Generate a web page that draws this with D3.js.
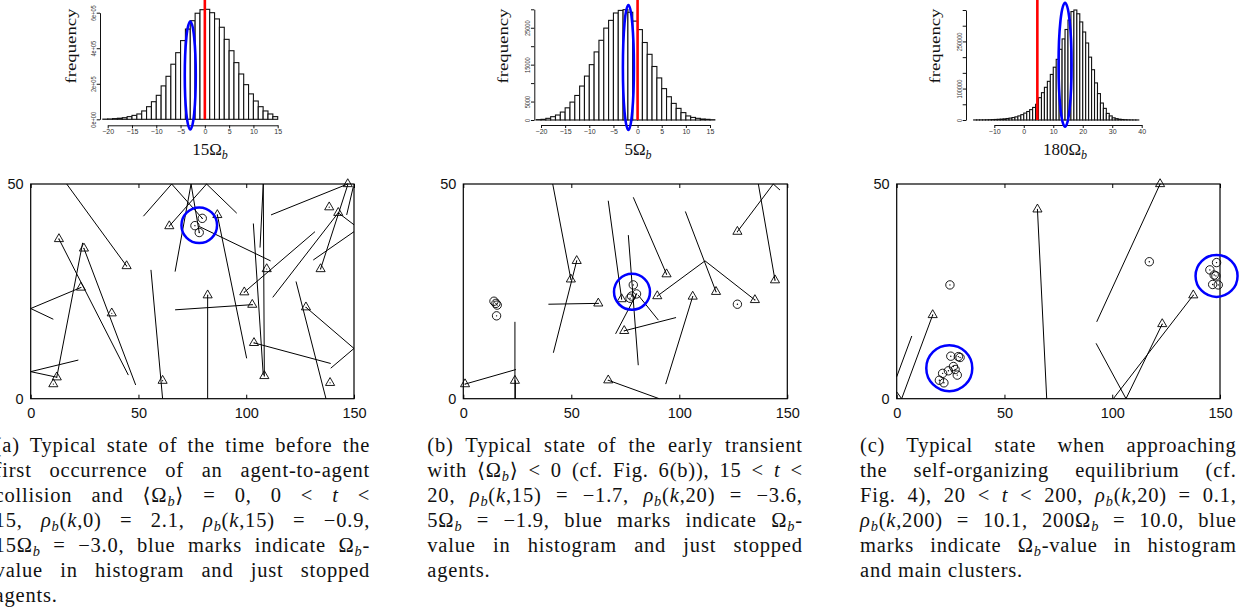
<!DOCTYPE html>
<html>
<head>
<meta charset="utf-8">
<script src="https://cdn.jsdelivr.net/npm/d3@7"></script>
<style>
  body { margin: 0; background: #fff; width: 1258px; height: 613px; overflow: hidden; position: relative; }
  svg { position: absolute; left: 0; top: 0; }
  .cap { position: absolute; font-family: "Liberation Serif", "DejaVu Serif", serif; font-size: 20.5px; line-height: 25px; letter-spacing: 0.8px; color: #111; }
  .cap div { height: 25px; text-align: justify; text-align-last: justify; }
  .cap div.last { text-align: left; text-align-last: left; }
  .cap sub { font-size: 0.7em; vertical-align: -0.28em; line-height: 0; font-style: italic; }
</style>
</head>
<body>
<script>
// ---------- histogram data (bin left edges, unit width) ----------
const binsA = [-21, -20, -19, -18, -17, -16, -15, -14, -13, -12, -11, -10, -9, -8, -7, -6, -5, -4, -3, -2, -1,
  0, 1, 2, 3, 4, 5, 6, 7, 8, 9, 10, 11, 12, 13, 14];
const countsA = [1000, 2000, 4000, 6000, 9000, 15000, 22000, 30000, 47000, 71000, 99000, 135000, 188000, 242000,
  310000, 375000, 443000, 508000, 555000, 597000, 617000, 619000, 600000, 565000, 518000, 450000, 386000, 319000,
  255000, 195000, 143000, 103000, 71000, 47000, 30000, 15000];
const xTicksA = [-20, -15, -10, -5, 0, 5, 10, 15];
const yTicksA = [0, 200000, 400000, 600000];
const yLabelsA = ["0e+00", "2e+05", "4e+05", "6e+05"];
const redA = 0;
const blueA = -3.0;

const binsB = [-21, -20, -19, -18, -17, -16, -15, -14, -13, -12, -11, -10, -9, -8, -7, -6, -5, -4, -3, -2, -1,
  0, 1, 2, 3, 4, 5, 6, 7, 8, 9, 10, 11, 12, 13, 14, 15];
const countsB = [100, 180, 450, 900, 1350, 2150, 3300, 4850, 6650, 9200, 11900, 15000, 18450, 21600, 24900, 27000,
  29000, 29700, 29900, 29200, 26800, 24500, 21000, 17800, 14500, 11400, 8500, 6300, 4500, 3150, 2000, 1100, 700,
  450, 270, 180, 80];
const xTicksB = [-20, -15, -10, -5, 0, 5, 10, 15];
const yTicksB = [0, 5000, 10000, 15000, 20000, 25000, 30000];
const yLabelsB = ["0", "5000", "", "15000", "", "25000", ""];
const redB = 0;
const blueB = -1.9;

const binsC = [-17, -16, -15, -14, -13, -12, -11, -10, -9, -8, -7, -6, -5, -4, -3, -2, -1, 0, 1, 2, 3, 4, 5, 6, 7,
  8, 9, 10, 11, 12, 13, 14, 15, 16, 17, 18, 19, 20, 21, 22, 23, 24, 25, 26, 27, 28, 29, 30, 31, 32, 33, 34, 35, 36,
  37, 38];
const countsC = [300, 400, 500, 600, 800, 1000, 1300, 1700, 2200, 2800, 3600, 4700, 6000, 7800, 10000, 13000, 17000,
  22000, 27000, 33000, 40000, 50000, 71000, 87000, 104000, 123000, 145000, 168000, 193000, 225000, 258000, 288000,
  318000, 345000, 350000, 338000, 312000, 280000, 245000, 200000, 160000, 118000, 84000, 54000, 37000, 21000, 13000,
  7000, 4300, 2500, 1500, 1000, 600, 400, 300, 200];
const xTicksC = [-10, 0, 10, 20, 30, 40];
const yTicksC = [0, 50000, 100000, 150000, 200000, 250000, 300000, 350000];
const yLabelsC = ["0", "", "100000", "", "", "250000", "", ""];
const redC = 4.6;
const blueC = 14.0;

// ---------- agent snapshots (x in 0..150, y in 0..50) ----------
const segmentsA = [
  [16.7, 50, 44.5, 30.9], [52.3, 42.5, 65.4, 50], [65.4, 50, 79.6, 42.0], [67.0, 29.6, 74.4, 50],
  [74.4, 50, 78.2, 38.7], [64.3, 40.2, 81.6, 50], [81.6, 50, 95.6, 43.2], [78.2, 40.1, 111.3, 32.1],
  [86.6, 42.8, 100.2, 9.4], [103.3, 40.8, 107.9, 5.5], [106.4, 35.2, 107.9, 50], [107.9, 50, 108.4, 5.3],
  [111.5, 42.8, 147.1, 50], [146.6, 42.8, 149.7, 49.4], [142.7, 43.3, 150, 40.5], [131.1, 32.3, 150, 38.9],
  [134.5, 30.2, 147.1, 49.8], [112.3, 23.6, 142.7, 43.3], [99.1, 24.8, 131.9, 38.9], [123.1, 27.3, 137.0, 0],
  [127.7, 21.3, 150, 11.7], [150, 11.7, 139.2, 7.1], [103.6, 13.0, 139.2, 8.2], [67.0, 20.7, 102.8, 21.9],
  [82.1, 24.1, 82.1, 0], [55.8, 30.0, 61.2, 0], [24.7, 35.0, 48.7, 3.2], [13.1, 37.2, 45.3, 5.5],
  [24.1, 36.3, 12.1, 5.0], [0, 21.0, 23.3, 25.9], [0, 21.0, 10.5, 18.5], [0, 6.3, 22.1, 9.0], [0, 6.3, 12.1, 5.0]
];
const movingA = [
  [44.5, 30.9], [64.3, 40.2], [86.6, 42.8], [13.1, 37.2], [24.7, 35.0], [23.3, 25.9], [37.6, 19.9], [12.1, 5.0],
  [10.5, 3.4], [61.2, 4.2], [82.1, 24.1], [99.1, 24.8], [102.8, 21.9], [103.6, 13.0], [108.4, 5.3], [109.5, 30.2],
  [127.7, 21.3], [134.5, 30.2], [138.5, 44.6], [142.7, 43.3], [147.1, 50], [138.9, 3.7]
];
const stoppedA = [[79.6, 42.0], [76.2, 40.3], [78.2, 38.7]];
const clustersA = [[78.2, 40.4]];

const segmentsB = [
  [41.4, 50, 49.8, 27.8], [41.7, 10.7, 52.5, 32.1], [39.4, 22.0, 62.5, 22.2], [67.1, 46.1, 73.3, 23.2],
  [78.7, 46.9, 94.1, 29.0], [76.4, 38.1, 81.0, 7.8], [70.5, 15.1, 80.2, 24.4], [74.5, 15.8, 98.5, 18.9],
  [81.0, 24.1, 90.3, 18.3], [67.1, 4.3, 90.7, 0], [93.7, 3.4, 106.2, 23.8], [89.8, 23.9, 111.9, 32.1],
  [111.9, 32.1, 135.0, 23.0], [102.8, 43.6, 117.0, 24.9], [136.6, 50, 144.3, 27.6], [126.9, 38.9, 143.5, 50],
  [143.5, 50, 146.6, 48.6], [0.8, 3.4, 24.4, 6.8], [23.9, 4.2, 23.9, 0], [24.1, 4.2, 24.1, 0],
  [23.9, 17.9, 23.9, 4.2]
];
const movingB = [
  [0.8, 3.4], [23.9, 4.2], [49.8, 27.8], [52.5, 32.1], [62.5, 22.2], [73.3, 23.2], [74.5, 15.8], [67.1, 4.3],
  [89.8, 23.9], [94.1, 29.0], [106.2, 23.8], [117.0, 24.9], [135.0, 23.0], [126.9, 38.9], [144.3, 27.6]
];
const stoppedB = [
  [14.2, 22.7], [15.1, 22.2], [15.7, 21.8], [15.4, 19.3], [78.7, 26.5], [80.2, 24.4], [77.9, 23.9], [77.2, 23.4],
  [126.9, 22.0]
];
const clustersB = [[78.1, 24.9]];

const segmentsC = [
  [0, 5.1, 7.0, 14.6], [0, 1.6, 2.3, 0], [2.3, 0, 16.7, 19.5], [65.3, 44.1, 69.6, 0], [92.8, 17.9, 122.2, 50],
  [92.5, 12.9, 106.4, 0], [106.4, 0, 123.2, 17.4], [100.5, 0, 137.6, 24.1]
];
const movingC = [[16.7, 19.5], [65.3, 44.1], [122.2, 50], [123.2, 17.4], [137.6, 24.1]];
const stoppedC = [
  [24.7, 26.5], [117.2, 31.9],
  [148.4, 31.7], [145.3, 30.0], [147.3, 28.8], [148.1, 28.6], [146.6, 26.6], [149.2, 26.5],
  [25.1, 9.9], [28.6, 9.8], [29.4, 9.6], [26.3, 7.5], [24.0, 6.5], [21.3, 5.9], [19.8, 4.3], [21.9, 3.7],
  [28.1, 5.5], [27.1, 6.8]
];
const clustersC = [[24.4, 7.1], [148.4, 28.6]];

// ---------- captions ----------
const captionA = [
  "(a) Typical state of the time before the",
  "first occurrence of an agent-to-agent",
  "collision and ⟨Ω<sub>b</sub>⟩ = 0, 0 &lt; <i>t</i> &lt;",
  "15, <i>ρ</i><sub>b</sub>(<i>k</i>,0) = 2.1, <i>ρ</i><sub>b</sub>(<i>k</i>,15) = −0.9,",
  "15Ω<sub>b</sub> = −3.0, blue marks indicate Ω<sub>b</sub>-",
  "value in histogram and just stopped",
  "agents."
];
const captionB = [
  "(b) Typical state of the early transient",
  "with ⟨Ω<sub>b</sub>⟩ &lt; 0 (cf. Fig. 6(b)), 15 &lt; <i>t</i> &lt;",
  "20, <i>ρ</i><sub>b</sub>(<i>k</i>,15) = −1.7, <i>ρ</i><sub>b</sub>(<i>k</i>,20) = −3.6,",
  "5Ω<sub>b</sub> = −1.9, blue marks indicate Ω<sub>b</sub>-",
  "value in histogram and just stopped",
  "agents."
];
const captionC = [
  "(c) Typical state when approaching",
  "the self-organizing equilibrium (cf.",
  "Fig. 4), 20 &lt; <i>t</i> &lt; 200, <i>ρ</i><sub>b</sub>(<i>k</i>,20) = 0.1,",
  "<i>ρ</i><sub>b</sub>(<i>k</i>,200) = 10.1, 200Ω<sub>b</sub> = 10.0, blue",
  "marks indicate Ω<sub>b</sub>-value in histogram",
  "and main clusters."
];

// ---------- layout ----------
const histLayout = [
  { bins: binsA, counts: countsA, xTicks: xTicksA, yTicks: yTicksA, yLabels: yLabelsA, red: redA, blue: blueA,
    xDomain: [-20, 15], xRange: [107.7, 277.7], yMax: 600000, yRange: [119.3, 12.7], axisY: 125.3, axisX: 100,
    blueCy: 75.5, blueRy: 54, blueRx: 5.5, label: "15", labelX: 210, freqX: 76 },
  { bins: binsB, counts: countsB, xTicks: xTicksB, yTicks: yTicksB, yLabels: yLabelsB, red: redB, blue: blueB,
    xDomain: [-20, 15], xRange: [541, 710], yMax: 30000, yRange: [120, 9.3], axisY: 125, axisX: 534.3,
    blueCy: 67.5, blueRy: 62.5, blueRx: 5.5, label: "5", labelX: 638, freqX: 507.5 },
  { bins: binsC, counts: countsC, xTicks: xTicksC, yTicks: yTicksC, yLabels: yLabelsC, red: redC, blue: blueC,
    xDomain: [-10, 40], xRange: [994.3, 1141.7], yMax: 350000, yRange: [120, 10], axisY: 125, axisX: 966,
    blueCy: 64.7, blueRy: 62, blueRx: 6.5, label: "180", labelX: 1065, freqX: 940 }
];

const scatterLayout = [
  { segments: segmentsA, moving: movingA, stopped: stoppedA, clusters: clustersA, radii: [17.8], left: 30.7, right: 354 },
  { segments: segmentsB, moving: movingB, stopped: stoppedB, clusters: clustersB, radii: [18], left: 463.3, right: 787.3 },
  { segments: segmentsC, moving: movingC, stopped: stoppedC, clusters: clustersC, radii: [23, 21], left: 896.7, right: 1220 }
];

const captionLayout = [
  { lines: captionA, left: -5.4, width: 375.5 },
  { lines: captionB, left: 427.3, width: 375.5 },
  { lines: captionC, left: 860, width: 376.7 }
];

const sans = "'Liberation Sans', Arial, Helvetica, sans-serif";
const serif = "'Liberation Serif', 'DejaVu Serif', serif";

const svg = d3.select("body").append("svg").attr("width", 1258).attr("height", 613);

function drawHist(h) {
  const x = d3.scaleLinear().domain(h.xDomain).range(h.xRange);
  const y = d3.scaleLinear().domain([0, h.yMax]).range(h.yRange);
  const g = svg.append("g");

  g.append("g").selectAll("rect")
    .data(h.bins.map((b, i) => ({ x0: b, c: h.counts[i] })))
    .join("rect")
    .attr("x", d => x(d.x0))
    .attr("width", d => x(d.x0 + 1) - x(d.x0))
    .attr("y", d => y(d.c))
    .attr("height", d => y(0) - y(d.c))
    .attr("fill", "#fff")
    .attr("stroke", "#111")
    .attr("stroke-width", 1.1);

  const xa = g.append("g")
    .attr("transform", `translate(0,${h.axisY})`)
    .call(d3.axisBottom(x).tickValues(h.xTicks).tickSizeInner(3).tickSizeOuter(0).tickFormat(d3.format("d")));
  xa.select(".domain").attr("stroke", "#111");
  xa.selectAll("line").attr("stroke", "#111");
  xa.selectAll("text")
    .attr("font-family", sans).attr("font-size", 7).attr("fill", "#333")
    .attr("y", 9).attr("dy", 0);

  const ya = g.append("g")
    .attr("transform", `translate(${h.axisX},0)`)
    .call(d3.axisLeft(y).tickValues(h.yTicks).tickSizeInner(3.3).tickSizeOuter(0)
      .tickFormat((d, i) => h.yLabels[i]));
  ya.select(".domain").attr("stroke", "#111");
  ya.selectAll("line").attr("stroke", "#111");
  ya.selectAll("text")
    .attr("font-family", sans).attr("font-size", 7).attr("fill", "#333")
    .attr("x", 0).attr("dy", 0).attr("text-anchor", "middle")
    .attr("transform", "translate(-4,0) rotate(-90) scale(0.8,1)");

  g.append("line")
    .attr("x1", x(h.red)).attr("x2", x(h.red))
    .attr("y1", 0).attr("y2", y(0))
    .attr("stroke", "#f00").attr("stroke-width", 2.6);

  g.append("ellipse")
    .attr("cx", x(h.blue)).attr("cy", h.blueCy)
    .attr("rx", h.blueRx).attr("ry", h.blueRy)
    .attr("fill", "none").attr("stroke", "#00f").attr("stroke-width", 2.6);

  const lab = g.append("text")
    .attr("x", h.labelX).attr("y", 155)
    .attr("text-anchor", "middle")
    .attr("font-family", serif).attr("font-size", 17).attr("fill", "#111");
  lab.append("tspan").text(h.label + "Ω");
  lab.append("tspan").attr("font-size", 12).attr("font-style", "italic").attr("dy", 4).text("b");

  g.append("text")
    .attr("transform", `translate(${h.freqX},46) rotate(-90)`)
    .attr("text-anchor", "middle")
    .attr("font-family", serif).attr("font-size", 15.5).attr("fill", "#111")
    .attr("textLength", 75).attr("lengthAdjust", "spacingAndGlyphs")
    .text("frequency");
}

function drawScatter(s) {
  const top = 184, bottom = 398.7;
  const x = d3.scaleLinear().domain([0, 150]).range([s.left, s.right]);
  const y = d3.scaleLinear().domain([0, 50]).range([bottom, top]);
  const g = svg.append("g");

  g.append("g").selectAll("line")
    .data(s.segments)
    .join("line")
    .attr("x1", d => x(d[0])).attr("y1", d => y(d[1]))
    .attr("x2", d => x(d[2])).attr("y2", d => y(d[3]))
    .attr("stroke", "#000").attr("stroke-width", 1);

  // frame
  g.append("rect")
    .attr("x", s.left).attr("y", top)
    .attr("width", s.right - s.left).attr("height", bottom - top)
    .attr("fill", "none").attr("stroke", "#000").attr("stroke-width", 1.2);

  const xt = [0, 50, 100, 150];
  const bx = g.append("g").attr("transform", `translate(0,${bottom})`)
    .call(d3.axisBottom(x).tickValues(xt).tickSizeInner(-4).tickSizeOuter(0));
  bx.select(".domain").remove();
  bx.selectAll("text").attr("font-family", sans).attr("font-size", 14.5).attr("fill", "#111")
    .attr("y", 19.6).attr("dy", 0);
  const tx = g.append("g").attr("transform", `translate(0,${top})`)
    .call(d3.axisTop(x).tickValues(xt).tickSizeInner(-4).tickSizeOuter(0).tickFormat(""));
  tx.select(".domain").remove();

  const ly = g.append("g").attr("transform", `translate(${s.left},0)`)
    .call(d3.axisLeft(y).tickValues([0, 50]).tickSizeInner(0).tickSizeOuter(0).tickPadding(7));
  ly.select(".domain").remove();
  ly.selectAll("text").attr("font-family", sans).attr("font-size", 14.5).attr("fill", "#111");

  const tri = d3.symbol().type(d3.symbolTriangle).size(36);
  const mv = g.append("g").selectAll("g").data(s.moving).join("g")
    .attr("transform", d => `translate(${x(d[0])},${y(d[1])})`);
  mv.append("path").attr("d", tri).attr("fill", "none").attr("stroke", "#000").attr("stroke-width", 0.9);
  mv.append("circle").attr("r", 0.6).attr("fill", "#000");

  const st = g.append("g").selectAll("g").data(s.stopped).join("g")
    .attr("transform", d => `translate(${x(d[0])},${y(d[1])})`);
  st.append("circle").attr("r", 4.2).attr("fill", "none").attr("stroke", "#000").attr("stroke-width", 0.9);
  st.append("circle").attr("r", 0.7).attr("fill", "#000");

  g.append("g").selectAll("circle").data(s.clusters).join("circle")
    .attr("cx", d => x(d[0])).attr("cy", d => y(d[1]))
    .attr("r", (d, i) => s.radii[i])
    .attr("fill", "none").attr("stroke", "#00f").attr("stroke-width", 2.5);
}

function drawCaption(c) {
  const box = d3.select("body").append("div")
    .attr("class", "cap")
    .style("left", c.left + "px")
    .style("top", (452 - 19.4) + "px")
    .style("width", c.width + "px");
  box.selectAll("div").data(c.lines).join("div")
    .attr("class", (d, i) => i === c.lines.length - 1 ? "last" : null)
    .html(d => d);
}

histLayout.forEach(drawHist);
scatterLayout.forEach(drawScatter);
captionLayout.forEach(drawCaption);
</script>
</body>
</html>
